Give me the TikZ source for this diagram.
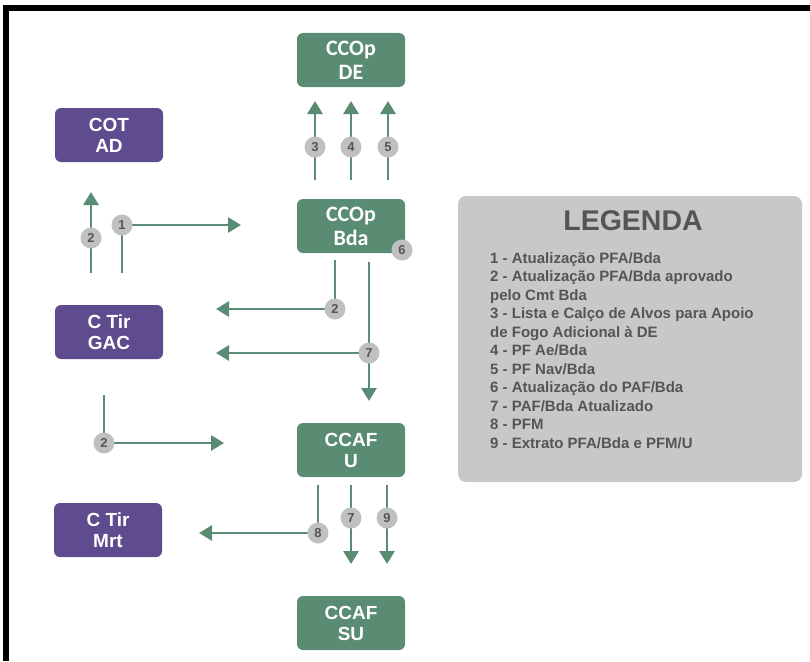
\documentclass[tikz,border=0pt]{standalone}
\usepackage{fontspec}
\setmainfont{Liberation Sans}
\newfontfamily\calib{Carlito}
\usetikzlibrary{arrows.meta}
\definecolor{grn}{HTML}{5A8B73}
\definecolor{prp}{HTML}{5F4C8E}
\definecolor{cgray}{HTML}{C0C0C0}
\definecolor{lgray}{HTML}{C8C8C8}
\definecolor{dtext}{HTML}{555555}
\tikzset{
  box/.style={rounded corners=6pt, minimum width=108pt, minimum height=54pt, text=white, font=\bfseries\fontsize{19}{21}\selectfont, align=center, inner sep=0pt},
  gbox/.style={box, fill=grn},
  pbox/.style={box, fill=prp},
  cbox/.style={gbox, font=\calib\bfseries\fontsize{22}{24}\selectfont},
  num/.style={circle, fill=cgray, minimum size=21pt, inner sep=0pt, text=dtext, font=\bfseries\fontsize{13}{13}\selectfont},
  arr/.style={draw=grn, line width=2.8pt, -{Triangle[width=15pt,length=13pt]}},
  ln/.style={draw=grn, line width=2.8pt},
}
\begin{document}
\begin{tikzpicture}[x=1pt,y=-1pt]
\useasboundingbox (0,0) rectangle (810,661);
\fill[white] (0,0) rectangle (810,661);
\fill[black] (3,5) rectangle (810,11);
\fill[black] (3,5) rectangle (9,661);

% boxes
\node[cbox] (de) at (351,60) {CCOp\\DE};
\node[pbox] (cot) at (109,135) {COT\\AD};
\node[cbox] (bda) at (351,226) {CCOp\\Bda};
\node[pbox] (gac) at (109,332) {C Tir\\GAC};
\node[gbox] (u) at (351,450) {CCAF\\U};
\node[pbox] (mrt) at (108,530) {C Tir\\Mrt};
\node[gbox] (su) at (351,623) {CCAF\\SU};

% coordinates
\coordinate (s3) at (315,180); \coordinate (t3) at (315,101);
\coordinate (s4) at (351,180); \coordinate (t4) at (351,101);
\coordinate (s5) at (388,180); \coordinate (t5) at (388,101);
\coordinate (s2a) at (91,273); \coordinate (t2a) at (91,192);
\coordinate (s1) at (122,273); \coordinate (c1) at (122,225); \coordinate (t1) at (241,225);
\coordinate (s2b) at (335,260); \coordinate (c2b) at (335,309); \coordinate (t2b) at (216,309);
\coordinate (s7) at (369,262); \coordinate (t7) at (369,401);
\coordinate (c7) at (369,353); \coordinate (t7b) at (216,353);
\coordinate (s2c) at (104,395); \coordinate (c2c) at (104,443); \coordinate (t2c) at (224,443);
\coordinate (s8) at (318,485); \coordinate (c8) at (318,533); \coordinate (t8) at (199,533);
\coordinate (s7b) at (351,485); \coordinate (t7c) at (351,564);
\coordinate (s9) at (387,485); \coordinate (t9) at (387,564);

% connectors
\draw[arr] (s3) -- (t3);
\draw[arr] (s4) -- (t4);
\draw[arr] (s5) -- (t5);
\draw[arr] (s2a) -- (t2a);
\draw[ln] (s1) -- (c1);
\draw[arr] (c1) -- (t1);
\draw[ln] (s2b) -- (c2b);
\draw[arr] (c2b) -- (t2b);
\draw[arr] (s7) -- (t7);
\draw[arr] (c7) -- (t7b);
\draw[ln] (s2c) -- (c2c);
\draw[arr] (c2c) -- (t2c);
\draw[ln] (s8) -- (c8);
\draw[arr] (c8) -- (t8);
\draw[arr] (s7b) -- (t7c);
\draw[arr] (s9) -- (t9);

% number circles
\node[num] (n3) at (315,147) {3};
\node[num] (n4) at (351,147) {4};
\node[num] (n5) at (388,147) {5};
\node[num] (n2a) at (91,238) {2};
\node[num] (n1) at (c1) {1};
\node[num] (n6) at (402,250) {6};
\node[num] (n2b) at (c2b) {2};
\node[num] (n7) at (c7) {7};
\node[num] (n2c) at (c2c) {2};
\node[num] (n8) at (c8) {8};
\node[num] (n7b) at (351,518) {7};
\node[num] (n9) at (387,518) {9};

% legend
\node[fill=lgray, rounded corners=8pt, minimum width=344pt, minimum height=286pt, inner sep=0pt] (leg) at (630,339) {};
\node[text=dtext, font=\bfseries\fontsize{28.5}{28.5}\selectfont] (legt) at (633,221) {LEGENDA};
\node[anchor=north west, text=dtext, font=\bfseries\fontsize{15}{18.5}\selectfont, align=left, inner sep=0pt] (legtxt) at (490,252) {%
1 - Atualização PFA/Bda\\
2 - Atualização PFA/Bda aprovado\\
pelo Cmt Bda\\
3 - Lista e Calço de Alvos para Apoio\\
de Fogo Adicional à DE\\
4 - PF Ae/Bda\\
5 - PF Nav/Bda\\
6 - Atualização do PAF/Bda\\
7 - PAF/Bda Atualizado\\
8 - PFM\\
9 - Extrato PFA/Bda e PFM/U};
\end{tikzpicture}
\end{document}
